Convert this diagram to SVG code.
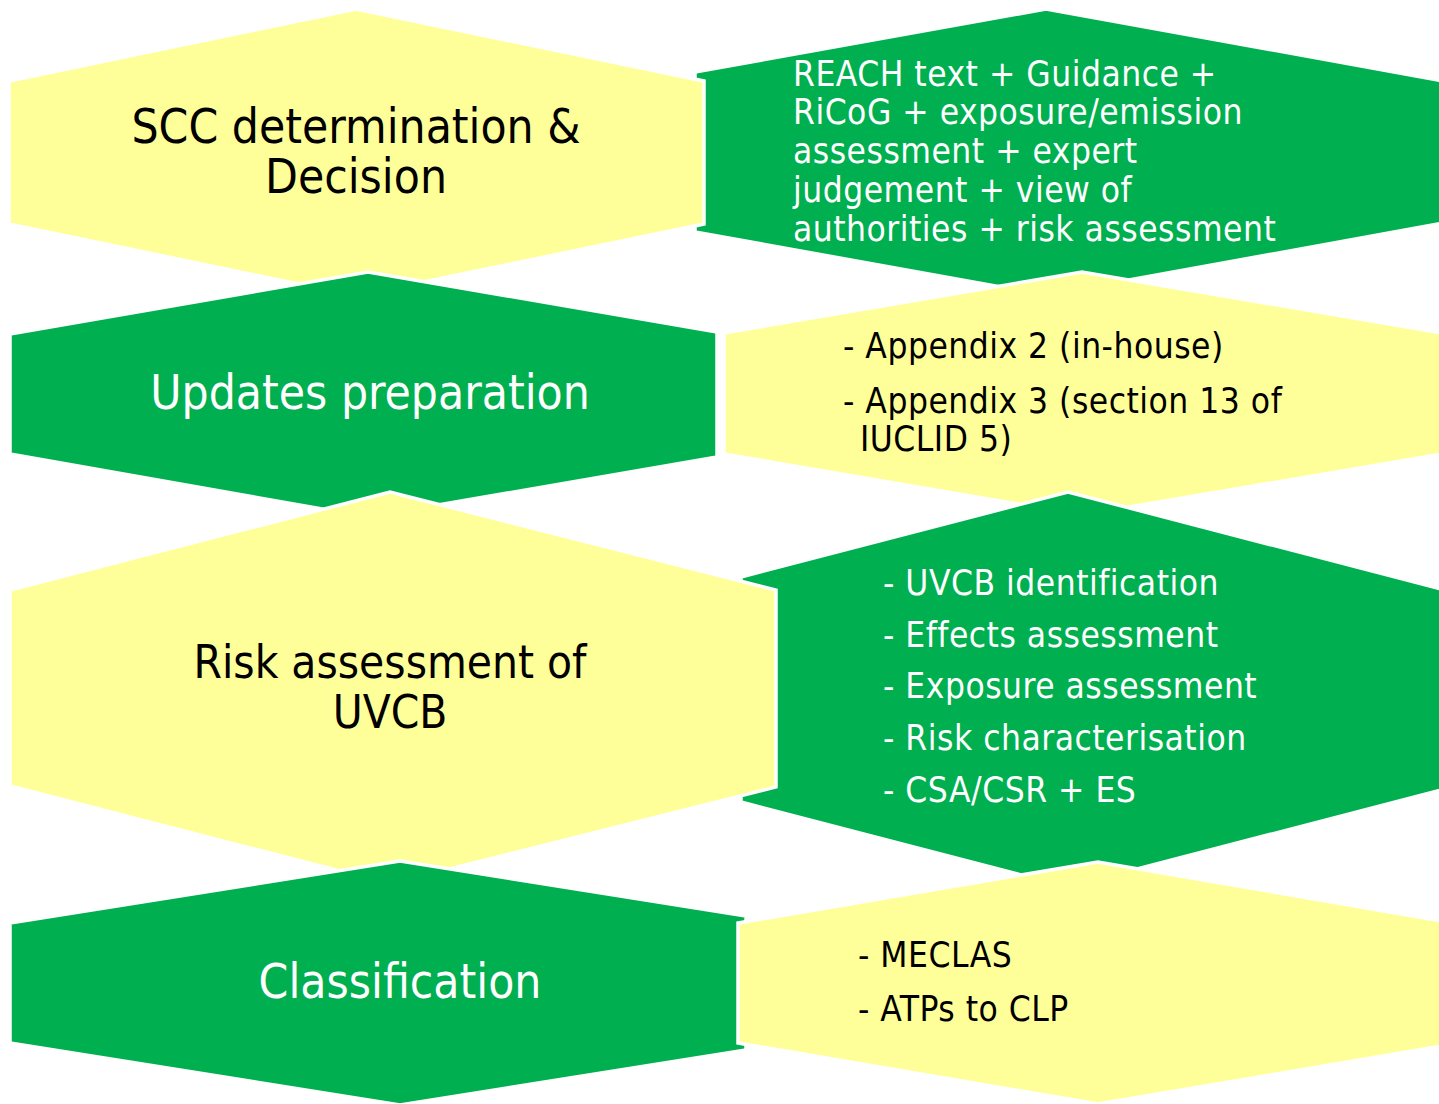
<svg xmlns="http://www.w3.org/2000/svg" width="1439" height="1104" viewBox="0 0 1439 1104">
<style>
.y{fill:#FFFF99;stroke:#FFFFFF;stroke-width:3.5;stroke-linejoin:miter}
.g{fill:#00B050;stroke:#FFFFFF;stroke-width:3.5;stroke-linejoin:miter}
text{font-family:"DejaVu Sans Condensed","DejaVu Sans",sans-serif;font-stretch:condensed}
.big{font-size:47.5px;text-anchor:middle}
.sm{font-size:35px;letter-spacing:0.5px}
.dk{fill:#000000}
.wt{fill:#FFFFFF}
</style>
<rect width="1439" height="1104" fill="#FFFFFF"/>
<g id="connectors"></g>
<g id="node-reach">
<polygon class="g" points="695,72 1046,9 1460,84 1460,220 1046,295 695,232"/>
<text class="sm wt" x="793" y="86">REACH text + Guidance +</text>
<text class="sm wt" x="793" y="124">RiCoG + exposure/emission</text>
<text class="sm wt" x="793" y="163">assessment + expert</text>
<text class="sm wt" x="793" y="202">judgement + view of</text>
<text class="sm wt" x="793" y="241">authorities + risk assessment</text>
</g>
<g id="node-scc">
<polygon class="y" points="9,81 356,9 704,81 704,224 356,296 9,224"/>
<text class="big dk" x="356" y="143">SCC determination &amp;</text>
<text class="big dk" x="356" y="193">Decision</text>
</g>
<g id="node-appendix">
<polygon class="y" points="724,333 1082,272 1460,336 1460,451 1082,515 724,454"/>
<text class="sm dk" x="843" y="358">- Appendix 2 (in-house)</text>
<text class="sm dk" x="843" y="413">- Appendix 3 (section 13 of</text>
<text class="sm dk" x="860" y="451">IUCLID 5)</text>
</g>
<g id="node-updates">
<polygon class="g" points="10,334 368,272 717,332 717,457 368,517 10,454"/>
<text class="big wt" x="370" y="409">Updates preparation</text>
</g>
<g id="node-uvcb-list">
<polygon class="g" points="741,577 1068,492 1460,594 1460,785 1068,887 741,802"/>
<text class="sm wt" x="883" y="595">- UVCB identification</text>
<text class="sm wt" x="883" y="647">- Effects assessment</text>
<text class="sm wt" x="883" y="698">- Exposure assessment</text>
<text class="sm wt" x="883" y="750">- Risk characterisation</text>
<text class="sm wt" x="883" y="802">- CSA/CSR + ES</text>
</g>
<g id="node-risk">
<polygon class="y" points="10,590 390,492 776,590 776,787 390,884 10,786"/>
<text class="big dk" x="390" y="678" style="font-size:45.5px">Risk assessment of</text>
<text class="big dk" x="390" y="728" style="font-size:45.5px">UVCB</text>
</g>
<g id="node-classification">
<polygon class="g" points="10,923 400,861 746,916 746,1050 400,1105 10,1043"/>
<text class="big wt" x="400" y="998">Classification</text>
</g>
<g id="node-meclas">
<polygon class="y" points="738,923 1098,862 1460,924 1460,1043 1098,1104 738,1043"/>
<text class="sm dk" x="858" y="967">- MECLAS</text>
<text class="sm dk" x="858" y="1021">- ATPs to CLP</text>
</g>
</svg>
